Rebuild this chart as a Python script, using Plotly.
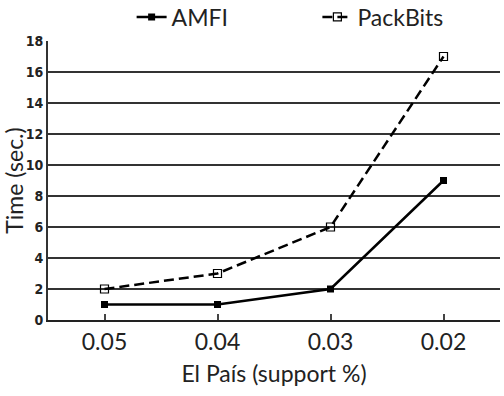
import plotly.graph_objects as go

categories = ["0.05", "0.04", "0.03", "0.02"]
amfi = [1, 1, 2, 9]
packbits = [2, 3, 6, 17]
y_ticks = [0, 2, 4, 6, 8, 10, 12, 14, 16, 18]

fig = go.Figure()
fig.add_trace(go.Scatter(
    x=categories, y=amfi, name="AMFI", mode="lines+markers",
    line=dict(color="black", width=2.5),
    marker=dict(symbol="square", size=7, color="black"),
    legend="legend",
))
fig.add_trace(go.Scatter(
    x=categories, y=packbits, name="PackBits", mode="lines+markers",
    line=dict(color="black", width=2.5, dash="10px,5px"),
    marker=dict(symbol="square-open", size=8, color="black", line=dict(width=1.2)),
    legend="legend2",
))

leg_common = dict(orientation="h", y=1.086, yanchor="middle", font=dict(size=23, color="#222"),
                  bgcolor="rgba(0,0,0,0)", borderwidth=0)

fig.update_layout(
    width=504, height=396,
    margin=dict(l=48, r=4, t=41, b=76, autoexpand=False),
    paper_bgcolor="white", plot_bgcolor="white",
    font=dict(family="Lato, Open Sans, sans-serif", color="#222", size=23),
    showlegend=True,
    legend=dict(x=0.185, xanchor="left", **leg_common),
    legend2=dict(x=0.596, xanchor="left", **leg_common),
    xaxis=dict(
        type="category", range=[-0.5, 3.5],
        showgrid=False, showline=True, linecolor="#222", linewidth=2,
        ticks="inside", ticklen=6, tickcolor="#444", tickwidth=1.5,
        tickfont=dict(size=23),
        title=dict(text="El País (support %)", font=dict(size=23), standoff=12),
    ),
    yaxis=dict(
        range=[0, 18], tickvals=y_ticks, ticktext=[str(v) for v in y_ticks],
        showgrid=True, gridcolor="#333", gridwidth=2,
        showline=True, linecolor="#333", linewidth=2,
        zeroline=False, ticks="",
        tickfont=dict(family="Liberation Sans Narrow, DejaVu Sans Condensed, sans-serif",
                      size=14, color="#222", weight="bold"),
        title=dict(text="Time (sec.)", font=dict(size=23), standoff=4),
    ),
)

fig.write_html("out.html")
